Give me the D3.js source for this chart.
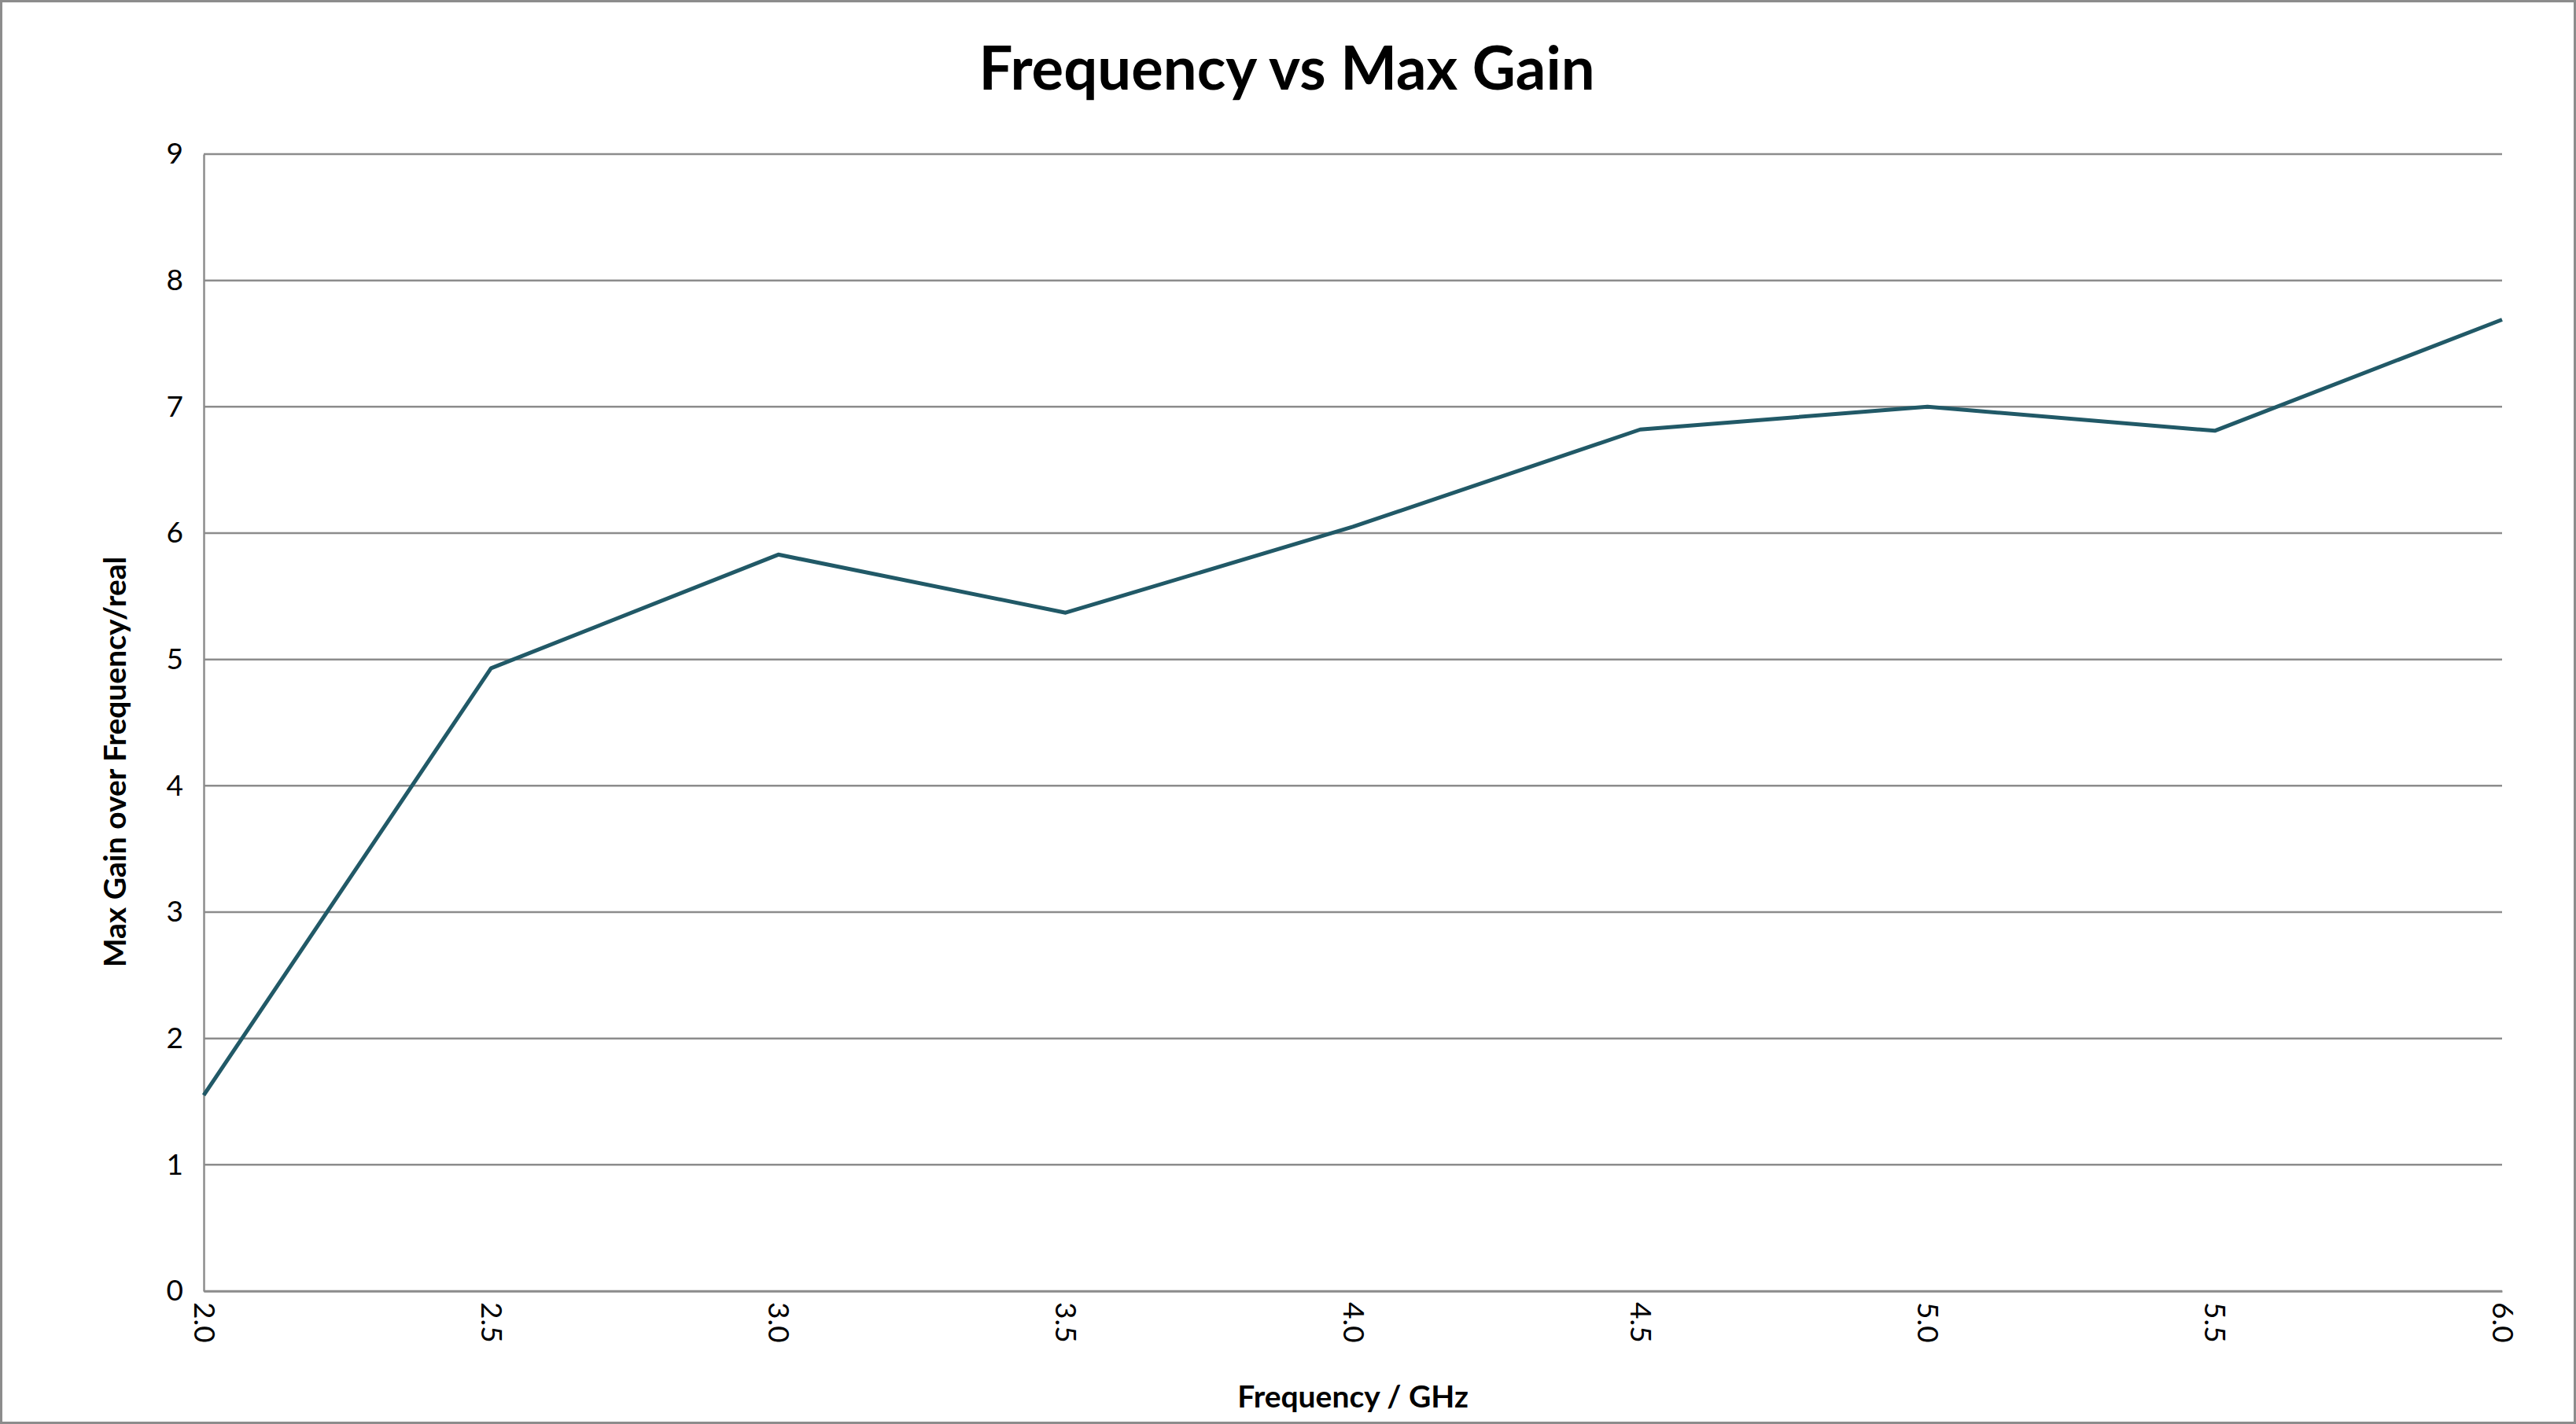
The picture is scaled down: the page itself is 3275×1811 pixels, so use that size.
<!DOCTYPE html>
<html><head><meta charset="utf-8">
<script src="https://cdn.jsdelivr.net/npm/d3@7"></script>
<style>body{margin:0;background:#fff}svg{display:block}</style>
</head><body>
<div id="chart"></div>
<script>
// chart values
const freqs = [2.0, 2.5, 3.0, 3.5, 4.0, 4.5, 5.0, 5.5, 6.0];
const gains = [1.55, 4.93, 5.83, 5.37, 6.05, 6.82, 7.0, 6.81, 7.69];
const yTicks = [0, 1, 2, 3, 4, 5, 6, 7, 8, 9];

const W = 3275, H = 1811;
const margin = {top: 196, right: 94, bottom: 169, left: 259};
const width = W - margin.left - margin.right,
    height = H - margin.top - margin.bottom;
const font = "Lato, 'Open Sans', sans-serif";

let svg = d3.select("#chart").append("svg")
    .attr("width", W).attr("height", H);

// outer border
svg.append("rect")
    .attr("x", 1.5).attr("y", 1.5)
    .attr("width", W - 3).attr("height", H - 3)
    .attr("fill", "#fff").attr("stroke", "#8c8c8c").attr("stroke-width", 3);

svg.append("text")
    .attr("x", 1636).attr("y", 114)
    .attr("text-anchor", "middle")
    .attr("font-family", font).attr("font-weight", "bold")
    .attr("font-size", "76px")
    .text("Frequency vs Max Gain");

let g = svg.append("g")
    .attr("transform", `translate(${margin.left},${margin.top})`);

let x = d3.scaleLinear().domain([2, 6]).range([0, width]);
let y = d3.scaleLinear().domain([0, 9]).range([height, 0]);

// gridlines
g.selectAll(".grid").data(yTicks).enter().append("line")
    .attr("x1", 0).attr("x2", width)
    .attr("y1", d => y(d)).attr("y2", d => y(d))
    .attr("stroke", "#8c8c8c").attr("stroke-width", 2.5);

// y axis
let yAxis = g.append("g")
    .call(d3.axisLeft(y).tickValues(yTicks).tickSize(0).tickPadding(26));
yAxis.select(".domain").attr("stroke", "#8c8c8c").attr("stroke-width", 2.5);
yAxis.selectAll("text").attr("font-family", font).attr("font-size", "37px").attr("fill", "#000");

// x axis with rotated labels
let xAxis = g.append("g")
    .attr("transform", `translate(0,${height})`)
    .call(d3.axisBottom(x).tickValues(freqs).tickFormat(d3.format(".1f")).tickSize(0));
xAxis.select(".domain").attr("stroke", "#8c8c8c").attr("stroke-width", 2.5);
xAxis.selectAll("text")
    .attr("font-family", font).attr("font-size", "37px").attr("fill", "#000")
    .attr("transform", "rotate(90)")
    .attr("text-anchor", "start")
    .attr("x", 14).attr("y", 0).attr("dy", "0.35em");

// data line
g.append("path")
    .datum(freqs.map((f, i) => [f, gains[i]]))
    .attr("fill", "none")
    .attr("stroke", "#215967").attr("stroke-width", 5)
    .attr("stroke-linejoin", "round")
    .attr("d", d3.line().x(d => x(d[0])).y(d => y(d[1])));

// axis titles
svg.append("text")
    .attr("x", margin.left + width / 2).attr("y", 1790)
    .attr("text-anchor", "middle")
    .attr("font-family", font).attr("font-weight", "bold").attr("font-size", "39px")
    .text("Frequency / GHz");

svg.append("text")
    .attr("transform", `translate(160,${margin.top + height / 2 + 50}) rotate(-90)`)
    .attr("text-anchor", "middle")
    .attr("font-family", font).attr("font-weight", "bold").attr("font-size", "39px")
    .text("Max Gain over Frequency/real");
</script>
</body></html>
